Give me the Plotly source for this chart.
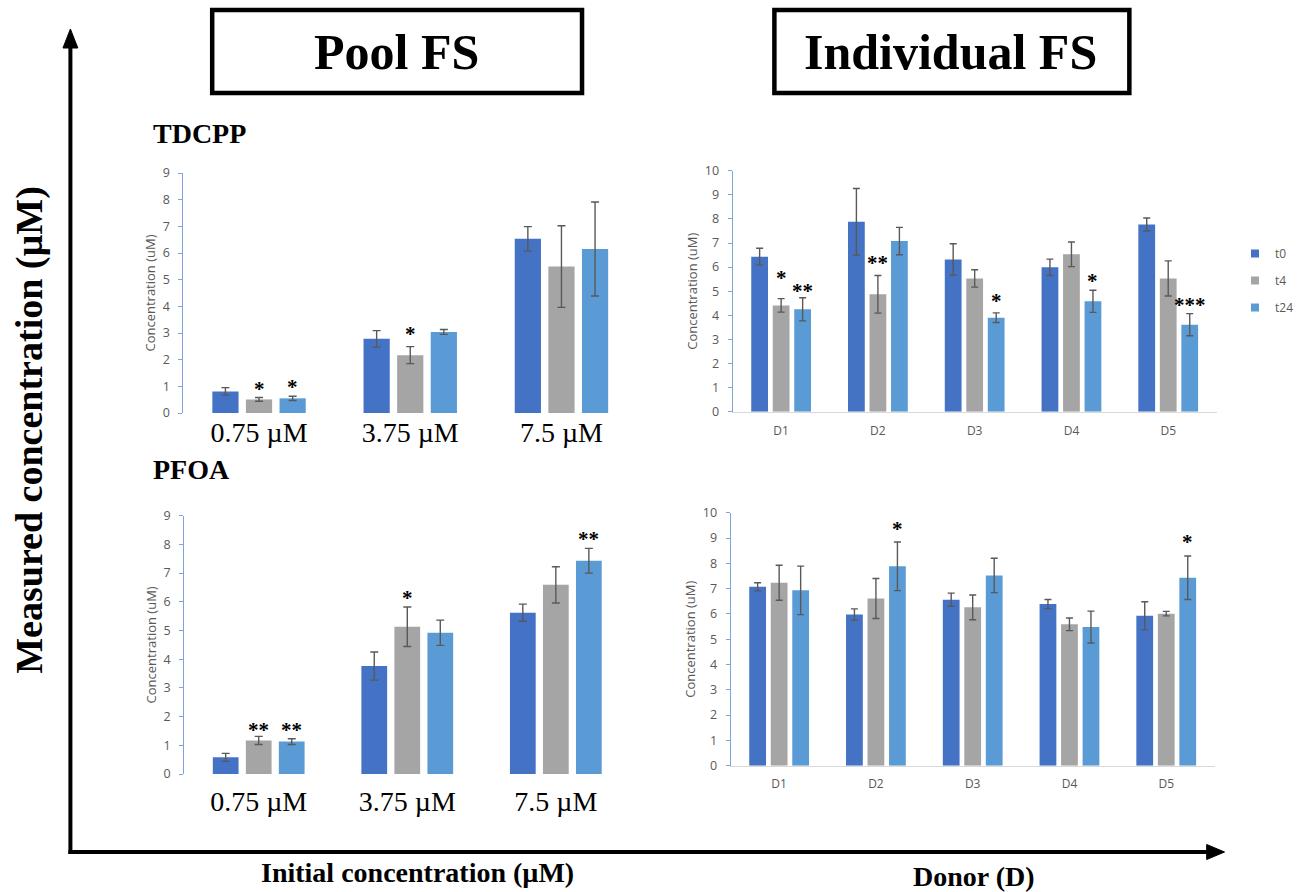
import plotly.graph_objects as go

# ---------------- data ----------------
series_names = ["t0", "t4", "t24"]
pool_levels = ["0.75 µM", "3.75 µM", "7.5 µM"]
donors = ["D1", "D2", "D3", "D4", "D5"]

# TDCPP, pooled faecal slurry
tdcpp_pool_t0 = [0.81, 2.78, 6.53]
tdcpp_pool_t0_err = [0.14, 0.31, 0.46]
tdcpp_pool_t4 = [0.51, 2.17, 5.49]
tdcpp_pool_t4_err = [0.07, 0.32, 1.53]
tdcpp_pool_t24 = [0.55, 3.04, 6.15]
tdcpp_pool_t24_err = [0.08, 0.09, 1.76]
tdcpp_pool_sig_t4 = ["*", "*", ""]
tdcpp_pool_sig_t24 = ["*", "", ""]

# TDCPP, individual donors
tdcpp_donor_t0 = [6.43, 7.88, 6.32, 5.99, 7.77]
tdcpp_donor_t0_err = [0.35, 1.38, 0.65, 0.34, 0.27]
tdcpp_donor_t4 = [4.41, 4.87, 5.53, 6.53, 5.53]
tdcpp_donor_t4_err = [0.28, 0.78, 0.36, 0.51, 0.73]
tdcpp_donor_t24 = [4.25, 7.08, 3.90, 4.58, 3.61]
tdcpp_donor_t24_err = [0.48, 0.57, 0.20, 0.46, 0.46]
tdcpp_donor_sig_t4 = ["*", "**", "", "", ""]
tdcpp_donor_sig_t24 = ["**", "", "*", "*", "***"]

# PFOA, pooled faecal slurry
pfoa_pool_t0 = [0.58, 3.76, 5.62]
pfoa_pool_t0_err = [0.14, 0.49, 0.30]
pfoa_pool_t4 = [1.17, 5.13, 6.59]
pfoa_pool_t4_err = [0.14, 0.69, 0.63]
pfoa_pool_t24 = [1.13, 4.92, 7.43]
pfoa_pool_t24_err = [0.10, 0.44, 0.43]
pfoa_pool_sig_t4 = ["**", "*", ""]
pfoa_pool_sig_t24 = ["**", "", "**"]

# PFOA, individual donors
pfoa_donor_t0 = [7.07, 5.98, 6.56, 6.39, 5.93]
pfoa_donor_t0_err = [0.16, 0.22, 0.26, 0.18, 0.55]
pfoa_donor_t4 = [7.23, 6.61, 6.26, 5.59, 6.01]
pfoa_donor_t4_err = [0.69, 0.79, 0.49, 0.25, 0.09]
pfoa_donor_t24 = [6.93, 7.88, 7.52, 5.48, 7.43]
pfoa_donor_t24_err = [0.96, 0.96, 0.68, 0.63, 0.86]
pfoa_donor_sig_t4 = ["", "", "", "", ""]
pfoa_donor_sig_t24 = ["", "*", "", "", "*"]

# ---------------- styling ----------------
W, H = 1299, 892
COLORS = {"t0": "#4472C4", "t4": "#A5A5A5", "t24": "#5B9BD5"}
GREY_TXT = "#595959"
AXIS_BLUE = "#7FA3DC"
SERIF = "Liberation Serif, Times New Roman, serif"
SANS = "Open Sans, Segoe UI, sans-serif"


def px_x(x):
    return x / W


def px_y(y):
    return 1 - y / H


panels = [
    dict(ax="", cats=pool_levels,
         vals=[tdcpp_pool_t0, tdcpp_pool_t4, tdcpp_pool_t24],
         errs=[tdcpp_pool_t0_err, tdcpp_pool_t4_err, tdcpp_pool_t24_err],
         sigs=[None, tdcpp_pool_sig_t4, tdcpp_pool_sig_t24],
         ymax=9, box=(185, 642.5, 173, 413), kind="pool", xstand=0),
    dict(ax="2", cats=donors,
         vals=[tdcpp_donor_t0, tdcpp_donor_t4, tdcpp_donor_t24],
         errs=[tdcpp_donor_t0_err, tdcpp_donor_t4_err, tdcpp_donor_t24_err],
         sigs=[None, tdcpp_donor_sig_t4, tdcpp_donor_sig_t24],
         ymax=10, box=(739, 1227, 170.7, 411.7), kind="donor", xstand=8),
    dict(ax="3", cats=pool_levels,
         vals=[pfoa_pool_t0, pfoa_pool_t4, pfoa_pool_t24],
         errs=[pfoa_pool_t0_err, pfoa_pool_t4_err, pfoa_pool_t24_err],
         sigs=[None, pfoa_pool_sig_t4, pfoa_pool_sig_t24],
         ymax=9, box=(186, 635.5, 515.7, 774), kind="pool", xstand=8),
    dict(ax="4", cats=donors,
         vals=[pfoa_donor_t0, pfoa_donor_t4, pfoa_donor_t24],
         errs=[pfoa_donor_t0_err, pfoa_donor_t4_err, pfoa_donor_t24_err],
         sigs=[None, pfoa_donor_sig_t4, pfoa_donor_sig_t24],
         ymax=10, box=(737, 1225, 512.7, 765.7), kind="donor", xstand=7),
]

# lift (px) of significance marks above their error bar
star_gap_default = 10
star_gap = {("2", 0, 1): 22, ("2", 0, 2): 8, ("2", 1, 1): 14, ("2", 2, 2): 13,
            ("", 1, 1): 14, ("4", 1, 2): 14, ("4", 4, 2): 15, ("3", 0, 1): 7}

fig = go.Figure()
annotations = []
layout_axes = {}

for p in panels:
    ax = p["ax"]
    xa = "x" + ax
    ya = "y" + ax
    for j, name in enumerate(series_names):
        fig.add_trace(go.Bar(
            x=p["cats"], y=p["vals"][j], name=name,
            marker=dict(color=COLORS[name], line=dict(width=0)),
            error_y=dict(type="data", array=p["errs"][j], color=GREY_TXT,
                         thickness=1.4, width=4 if p["kind"] == "pool" else 3.5),
            xaxis=xa, yaxis=ya, showlegend=False,
        ))
        sig = p["sigs"][j]
        if sig:
            for i, s in enumerate(sig):
                if not s:
                    continue
                top = p["vals"][j][i] + p["errs"][j][i]
                gap = star_gap.get((ax, i, j), star_gap_default)
                annotations.append(dict(
                    x=i + (j - 1) * 2 / 9, y=top, xref=xa, yref=ya,
                    text="<b>%s</b>" % s, showarrow=False, yanchor="middle", xanchor="center",
                    yshift=gap - 1,
                    font=dict(family=SERIF, size=21, color="black"),
                ))

    x0, x1, y0, y1 = p["box"]
    pool = p["kind"] == "pool"
    layout_axes["xaxis" + ax] = dict(
        domain=[px_x(x0), px_x(x1)], anchor=ya, type="category",
        showline=not pool, linecolor="#D9D9D9", linewidth=1,
        ticks="", showgrid=False, zeroline=False, automargin=False,
        ticklabelstandoff=p["xstand"],
        tickfont=dict(family=SERIF, size=28, color="black") if pool
        else dict(family=SANS, size=12, color=GREY_TXT),
        fixedrange=True,
    )
    layout_axes["yaxis" + ax] = dict(
        domain=[px_y(y1), px_y(y0)], anchor=xa, range=[0, p["ymax"]],
        dtick=1, showline=True, linecolor=AXIS_BLUE, linewidth=1.3,
        ticks="outside", ticklen=4, tickcolor=AXIS_BLUE, tickwidth=1.3,
        ticklabelstandoff=6,
        showgrid=False, zeroline=False, automargin=False,
        tickfont=dict(family=SANS, size=12.5, color=GREY_TXT),
        title=dict(text="Concentration (uM)", standoff=4,
                   font=dict(family=SANS, size=13, color=GREY_TXT)),
        fixedrange=True,
    )

# legend-only entries
for name in series_names:
    fig.add_trace(go.Scatter(
        x=[None], y=[None], mode="markers", name=name, legendgroup=name,
        marker=dict(symbol="square", size=8, color=COLORS[name]),
        xaxis="x2", yaxis="y2", showlegend=True,
    ))

# panel headings and big axis labels
for txt, x in [("Pool FS", 400), ("Individual FS", 959)]:
    annotations.append(dict(
        x=px_x(x), y=px_y(52), xref="paper", yref="paper", text="<b>%s</b>" % txt,
        showarrow=False, xanchor="center", yanchor="middle",
        font=dict(family=SERIF, size=50, color="black"),
    ))
for txt, y in [("TDCPP", 133), ("PFOA", 470)]:
    annotations.append(dict(
        x=px_x(152), y=px_y(y), xref="paper", yref="paper", text="<b>%s</b>" % txt,
        showarrow=False, xanchor="left", yanchor="middle",
        font=dict(family=SERIF, size=28, color="black"),
    ))
annotations.append(dict(
    x=px_x(30), y=px_y(430), xref="paper", yref="paper",
    text="<b>Measured concentration (µM)</b>", textangle=-90,
    showarrow=False, xanchor="center", yanchor="middle",
    font=dict(family=SERIF, size=38, color="black"),
))
annotations.append(dict(
    x=px_x(421), y=px_y(872), xref="paper", yref="paper",
    text="<b>Initial concentration (µM)</b>",
    showarrow=False, xanchor="center", yanchor="middle",
    font=dict(family=SERIF, size=28, color="black"),
))
annotations.append(dict(
    x=px_x(982), y=px_y(876), xref="paper", yref="paper",
    text="<b>Donor (D)</b>",
    showarrow=False, xanchor="center", yanchor="middle",
    font=dict(family=SERIF, size=28, color="black"),
))

shapes = [
    # framed headings
    dict(type="rect", xref="paper", yref="paper", x0=px_x(214), x1=px_x(587),
         y0=px_y(93), y1=px_y(10), line=dict(color="black", width=4.5)),
    dict(type="rect", xref="paper", yref="paper", x0=px_x(781), x1=px_x(1139),
         y0=px_y(93), y1=px_y(10), line=dict(color="black", width=4.5)),
    # outer axis arrows
    dict(type="line", xref="paper", yref="paper", x0=px_x(71), x1=px_x(71),
         y0=px_y(854), y1=px_y(44), line=dict(color="black", width=4)),
    dict(type="path", xref="paper", yref="paper",
         path="M %f,%f L %f,%f L %f,%f Z" % (px_x(63.5), px_y(48), px_x(78.5), px_y(48), px_x(71), px_y(29)),
         fillcolor="black", line=dict(color="black", width=1)),
    dict(type="line", xref="paper", yref="paper", x0=px_x(69), x1=px_x(1220),
         y0=px_y(852), y1=px_y(852), line=dict(color="black", width=4)),
    dict(type="path", xref="paper", yref="paper",
         path="M %f,%f L %f,%f L %f,%f Z" % (px_x(1217), px_y(844.5), px_x(1217), px_y(859.5), px_x(1235), px_y(852)),
         fillcolor="black", line=dict(color="black", width=1)),
]

fig.update_layout(
    width=W, height=H, autosize=False,
    margin=dict(l=0, r=0, t=0, b=0),
    paper_bgcolor="white", plot_bgcolor="white",
    barmode="group", bargap=1 / 3, bargroupgap=0.22,
    annotations=annotations, shapes=shapes,
    legend=dict(x=px_x(1246), y=px_y(239), xanchor="left", yanchor="top",
                font=dict(family=SANS, size=12, color=GREY_TXT),
                tracegroupgap=8, bgcolor="rgba(0,0,0,0)"),
    **layout_axes,
)

fig.write_html("out.html")
